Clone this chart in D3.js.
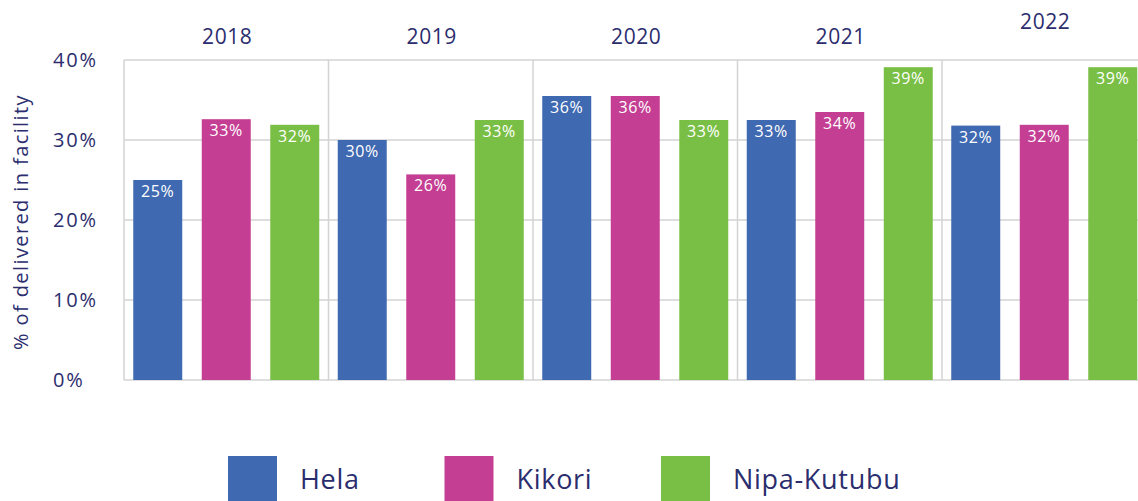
<!DOCTYPE html>
<html>
<head>
<meta charset="utf-8">
<script src="https://cdn.jsdelivr.net/npm/d3@7"></script>
<style>
  body { margin: 0; background: #fff; overflow: hidden; }
  text { font-family: "Open Sans", sans-serif; }
</style>
</head>
<body>
<div id="chart"></div>
<script>
const years = ["2018", "2019", "2020", "2021", "2022"];
const provinces = ["Hela", "Kikori", "Nipa-Kutubu"];
const hela = [25.0, 30.0, 35.5, 32.5, 31.8];
const kikori = [32.6, 25.7, 35.5, 33.5, 31.9];
const nipaKutubu = [31.9, 32.5, 32.5, 39.1, 39.1];
const yTicks = [0, 10, 20, 30, 40];

const colors = ["#3f69b1", "#c43e93", "#7abf45"];
const textColor = "#2b2d6e";
const gridColor = "#d3d3d3";

const width = 1138;
const height = 501;
const marginLeft = 124;
const plotRight = 1146.5; // plot runs a little past the picture edge
const marginTop = 60;
const marginBottom = 121;

const series = [hela, kikori, nipaKutubu];
const rows = [];
years.forEach((y, i) => {
  provinces.forEach((p, j) => rows.push({ year: y, province: p, value: series[j][i] }));
});

const x0 = d3.scaleBand()
  .domain(years)
  .range([marginLeft, plotRight]);

const x1 = d3.scaleBand()
  .domain(provinces)
  .range([0, x0.bandwidth()])
  .paddingInner(0.285)
  .paddingOuter(0.135);

const y = d3.scaleLinear()
  .domain([0, 40])
  .range([height - marginBottom, marginTop]);

const color = d3.scaleOrdinal().domain(provinces).range(colors);

const svg = d3.create("svg")
  .attr("width", width)
  .attr("height", height)
  .attr("viewBox", `0 0 ${width} ${height}`);

// horizontal gridlines
svg.append("g")
  .selectAll("line")
  .data(yTicks)
  .join("line")
  .attr("x1", marginLeft)
  .attr("x2", plotRight)
  .attr("y1", d => y(d))
  .attr("y2", d => y(d))
  .attr("stroke", gridColor)
  .attr("stroke-width", 1.5);

// panel separators
svg.append("g")
  .selectAll("line")
  .data(years)
  .join("line")
  .attr("x1", d => x0(d))
  .attr("x2", d => x0(d))
  .attr("y1", y(40))
  .attr("y2", y(0))
  .attr("stroke", gridColor)
  .attr("stroke-width", 1.5);

// y tick labels
svg.append("g")
  .selectAll("text")
  .data(yTicks)
  .join("text")
  .attr("x", 53)
  .attr("y", d => y(d))
  .attr("dy", "0.35em")
  .attr("fill", textColor)
  .style("font-size", "20px")
  .style("letter-spacing", "1.8px")
  .text(d => `${d}%`);

svg.append("text")
  .attr("transform", "rotate(-90)")
  .attr("x", -222)
  .attr("y", 28)
  .attr("text-anchor", "middle")
  .attr("fill", textColor)
  .style("font-size", "20px")
  .style("letter-spacing", "1.4px")
  .text("% of delivered in facility");

// year labels
svg.append("g")
  .selectAll("text")
  .data(years)
  .join("text")
  .attr("x", d => x0(d) + x0.bandwidth() / 2 + 1)
  .attr("y", d => d === "2022" ? 29 : 44)
  .attr("text-anchor", "middle")
  .attr("fill", textColor)
  .style("font-size", "21px")
  .style("letter-spacing", "0.6px")
  .text(d => d);

// bars
const bars = svg.append("g")
  .selectAll("g")
  .data(rows)
  .join("g")
  .attr("transform", d => `translate(${x0(d.year) + x1(d.province)},0)`);

bars.append("rect")
  .attr("y", d => y(d.value))
  .attr("width", x1.bandwidth())
  .attr("height", d => y(0) - y(d.value))
  .attr("fill", d => color(d.province));

bars.append("text")
  .attr("x", x1.bandwidth() / 2)
  .attr("y", d => y(d.value) + 17)
  .attr("text-anchor", "middle")
  .attr("fill", "#fff")
  .style("font-size", "16px")
  .style("letter-spacing", "0.6px")
  .text(d => `${Math.round(d.value)}%`);

// legend
const legend = svg.append("g")
  .selectAll("g")
  .data(provinces)
  .join("g")
  .attr("transform", (d, i) => `translate(${228 + i * 216.5},456)`);

legend.append("rect")
  .attr("width", 49)
  .attr("height", 49)
  .attr("fill", d => color(d));

legend.append("text")
  .attr("x", 72)
  .attr("y", 33)
  .attr("fill", textColor)
  .style("font-size", "27px")
  .style("letter-spacing", "0.7px")
  .text(d => d);

document.getElementById("chart").append(svg.node());
</script>
</body>
</html>
